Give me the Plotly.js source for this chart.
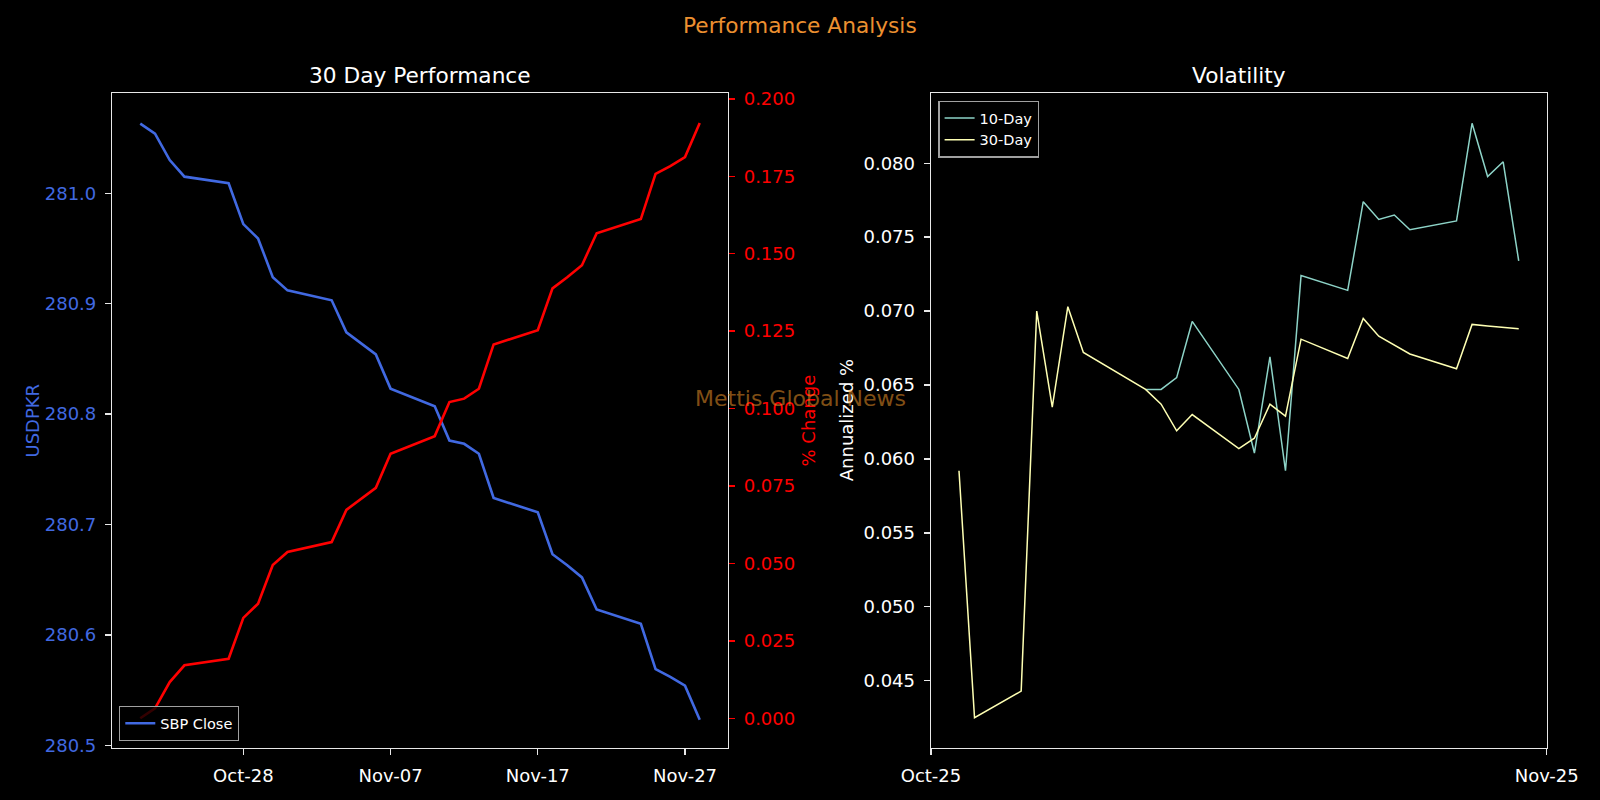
<!DOCTYPE html>
<html>
<head>
<meta charset="utf-8">
<script src="https://cdn.plot.ly/plotly-3.0.1.min.js"></script>
<style>
  html, body { margin: 0; padding: 0; background: #000; }
  #chart { width: 1600px; height: 800px; }
</style>
</head>
<body>
<div id="chart"></div>
<script>
// ---------- Data ----------
const perfDates = [
  '2025-10-21','2025-10-22','2025-10-23','2025-10-24','2025-10-27','2025-10-28','2025-10-29','2025-10-30','2025-10-31',
  '2025-11-03','2025-11-04','2025-11-05','2025-11-06','2025-11-07','2025-11-10','2025-11-11','2025-11-12','2025-11-13',
  '2025-11-14','2025-11-17','2025-11-18','2025-11-19','2025-11-20','2025-11-21','2025-11-24','2025-11-25','2025-11-26',
  '2025-11-27','2025-11-28'
];
const sbpClose = [
  281.063, 281.054, 281.030, 281.015, 281.009, 280.972, 280.959, 280.924, 280.912,
  280.903, 280.874, 280.864, 280.854, 280.823, 280.807, 280.776, 280.773, 280.764,
  280.724, 280.711, 280.673, 280.663, 280.652, 280.623, 280.610, 280.569, 280.562,
  280.554, 280.523
];
const pctChange = [
  0.0000, 0.0032, 0.0117, 0.0171, 0.0192, 0.0324, 0.0370, 0.0495, 0.0537,
  0.0569, 0.0673, 0.0708, 0.0744, 0.0854, 0.0911, 0.1021, 0.1032, 0.1064,
  0.1207, 0.1253, 0.1388, 0.1424, 0.1463, 0.1566, 0.1612, 0.1758, 0.1783,
  0.1812, 0.1922
];
const perfTickVals = ['2025-10-28','2025-11-07','2025-11-17','2025-11-27'];

const volDates = [
  '2025-10-23','2025-10-24','2025-10-27','2025-10-28','2025-10-29','2025-10-30','2025-10-31',
  '2025-11-04','2025-11-05','2025-11-06','2025-11-07','2025-11-10','2025-11-11','2025-11-12',
  '2025-11-13','2025-11-14','2025-11-17','2025-11-18','2025-11-19','2025-11-20','2025-11-21',
  '2025-11-24','2025-11-25','2025-11-26','2025-11-27','2025-11-28'
];
const vol10 = [
  null, null, null, null, null, null, null,
  0.0647, 0.0647, 0.0655, 0.0693, 0.0647, 0.0604, 0.0669,
  0.0592, 0.0724, 0.0714, 0.0774, 0.0762, 0.0765, 0.0755,
  0.0761, 0.0827, 0.0791, 0.0801, 0.0734
];
const vol30 = [
  0.0592, 0.0425, 0.0443, 0.0700, 0.0635, 0.0703, 0.0672,
  0.0647, 0.0637, 0.0619, 0.0630, 0.0607, 0.0614, 0.0637,
  0.0629, 0.0681, 0.0668, 0.0695, 0.0683, 0.0677, 0.0671,
  0.0661, 0.0691, 0.0690, 0.0689, 0.0688
];
const volTickText = ['Oct-25', 'Nov-25'];

// ---------- Styling ----------
const FONT = 'DejaVu Sans, Liberation Sans, sans-serif';
const SPINE = '#e8e8e8';
const BLUE = '#4169E1';
const RED = '#ff0000';

const traces = [
  { x: perfDates, y: sbpClose, type: 'scatter', mode: 'lines', name: 'SBP Close',
    xaxis: 'x', yaxis: 'y', line: { color: BLUE, width: 2.6 }, legend: 'legend' },
  { x: perfDates, y: pctChange, type: 'scatter', mode: 'lines', name: '% Change',
    xaxis: 'x', yaxis: 'y2', line: { color: RED, width: 2.6 }, showlegend: false },
  { x: volDates, y: vol10, type: 'scatter', mode: 'lines', name: '10-Day',
    xaxis: 'x2', yaxis: 'y3', line: { color: '#8dd3c7', width: 1.5 }, legend: 'legend2', connectgaps: false },
  { x: volDates, y: vol30, type: 'scatter', mode: 'lines', name: '30-Day',
    xaxis: 'x2', yaxis: 'y3', line: { color: '#feffb3', width: 1.5 }, legend: 'legend2' }
];

const axisBase = {
  showgrid: false, zeroline: false, showline: true, linecolor: SPINE, linewidth: 1.4,
  mirror: true, ticks: 'outside', ticklen: 6, tickwidth: 1.4, tickcolor: SPINE,
  tickfont: { family: FONT, size: 18, color: '#ffffff' }, ticklabelstandoff: 5
};

const yTop = (800 - 93.3) / 800, yBot = (800 - 748) / 800;

const layout = {
  width: 1600, height: 800,
  paper_bgcolor: '#000000', plot_bgcolor: '#000000',
  margin: { l: 0, r: 0, t: 0, b: 0 },
  font: { family: FONT, color: '#ffffff' },
  xaxis: Object.assign({}, axisBase, {
    type: 'date', domain: [112.3 / 1600, 727.7 / 1600], anchor: 'y',
    range: ['2025-10-19 02:24', '2025-11-29 21:36'],
    tickmode: 'array', tickvals: perfTickVals, tickformat: '%b-%d'
  }),
  yaxis: Object.assign({}, axisBase, {
    domain: [yBot, yTop], anchor: 'x',
    range: [280.4975, 281.0905], tickmode: 'linear', tick0: 280.5, dtick: 0.1, tickformat: '.1f',
    tickfont: { family: FONT, size: 18, color: BLUE }
  }),
  yaxis2: Object.assign({}, axisBase, {
    overlaying: 'y', side: 'right', anchor: 'x', mirror: false,
    range: [-0.0096, 0.2018], tickmode: 'linear', tick0: 0, dtick: 0.025, tickformat: '.3f',
    tickcolor: RED, tickfont: { family: FONT, size: 18, color: RED }
  }),
  xaxis2: Object.assign({}, axisBase, {
    type: 'date', domain: [931 / 1600, 1546.7 / 1600], anchor: 'y3',
    range: ['2025-10-21 04:48', '2025-11-29 19:12'],
    tickmode: 'array', tickvals: ['2025-10-21 04:48', '2025-11-29 19:12'], ticktext: volTickText
  }),
  yaxis3: Object.assign({}, axisBase, {
    domain: [yBot, yTop], anchor: 'x2',
    range: [0.04045, 0.08473], tickmode: 'linear', tick0: 0.045, dtick: 0.005, tickformat: '.3f'
  }),
  legend: {
    x: 119 / 1600, y: (800 - 741) / 800, xanchor: 'left', yanchor: 'bottom',
    bgcolor: 'rgba(0,0,0,0.8)', bordercolor: '#a0a0a0', borderwidth: 1.3,
    font: { family: FONT, size: 14.5, color: '#ffffff' }
  },
  legend2: {
    x: 938.3 / 1600, y: (800 - 100.7) / 800, xanchor: 'left', yanchor: 'top',
    bgcolor: 'rgba(0,0,0,0.8)', bordercolor: '#a0a0a0', borderwidth: 1.3,
    font: { family: FONT, size: 14.5, color: '#ffffff' }
  },
  annotations: [
    { text: 'Performance Analysis', xref: 'paper', yref: 'paper', x: 0.5, y: (800 - 26) / 800,
      xanchor: 'center', yanchor: 'middle', showarrow: false,
      font: { family: FONT, size: 21.7, color: '#ec9030' } },
    { text: '30 Day Performance', xref: 'paper', yref: 'paper', x: 420 / 1600, y: (800 - 76) / 800,
      xanchor: 'center', yanchor: 'middle', showarrow: false,
      font: { family: FONT, size: 21.7, color: '#ffffff' } },
    { text: 'Volatility', xref: 'paper', yref: 'paper', x: 1238.85 / 1600, y: (800 - 76) / 800,
      xanchor: 'center', yanchor: 'middle', showarrow: false,
      font: { family: FONT, size: 21.7, color: '#ffffff' } },
    { text: 'USDPKR', xref: 'paper', yref: 'paper', x: 32 / 1600, y: (800 - 420.5) / 800,
      xanchor: 'center', yanchor: 'middle', textangle: -90, showarrow: false,
      font: { family: FONT, size: 18, color: BLUE } },
    { text: '% Change', xref: 'paper', yref: 'paper', x: 808 / 1600, y: (800 - 420.5) / 800,
      xanchor: 'center', yanchor: 'middle', textangle: -90, showarrow: false,
      font: { family: FONT, size: 18, color: RED } },
    { text: 'Annualized %', xref: 'paper', yref: 'paper', x: 846.7 / 1600, y: (800 - 420.5) / 800,
      xanchor: 'center', yanchor: 'middle', textangle: -90, showarrow: false,
      font: { family: FONT, size: 18, color: '#ffffff' } },
    { text: 'Mettis Global News', xref: 'paper', yref: 'paper', x: 0.5, y: (800 - 398) / 800,
      xanchor: 'center', yanchor: 'middle', showarrow: false,
      font: { family: FONT, size: 22, color: 'rgba(240,150,40,0.55)' } }
  ]
};

Plotly.newPlot('chart', traces, layout, { displayModeBar: false, staticPlot: true });
</script>
</body>
</html>
